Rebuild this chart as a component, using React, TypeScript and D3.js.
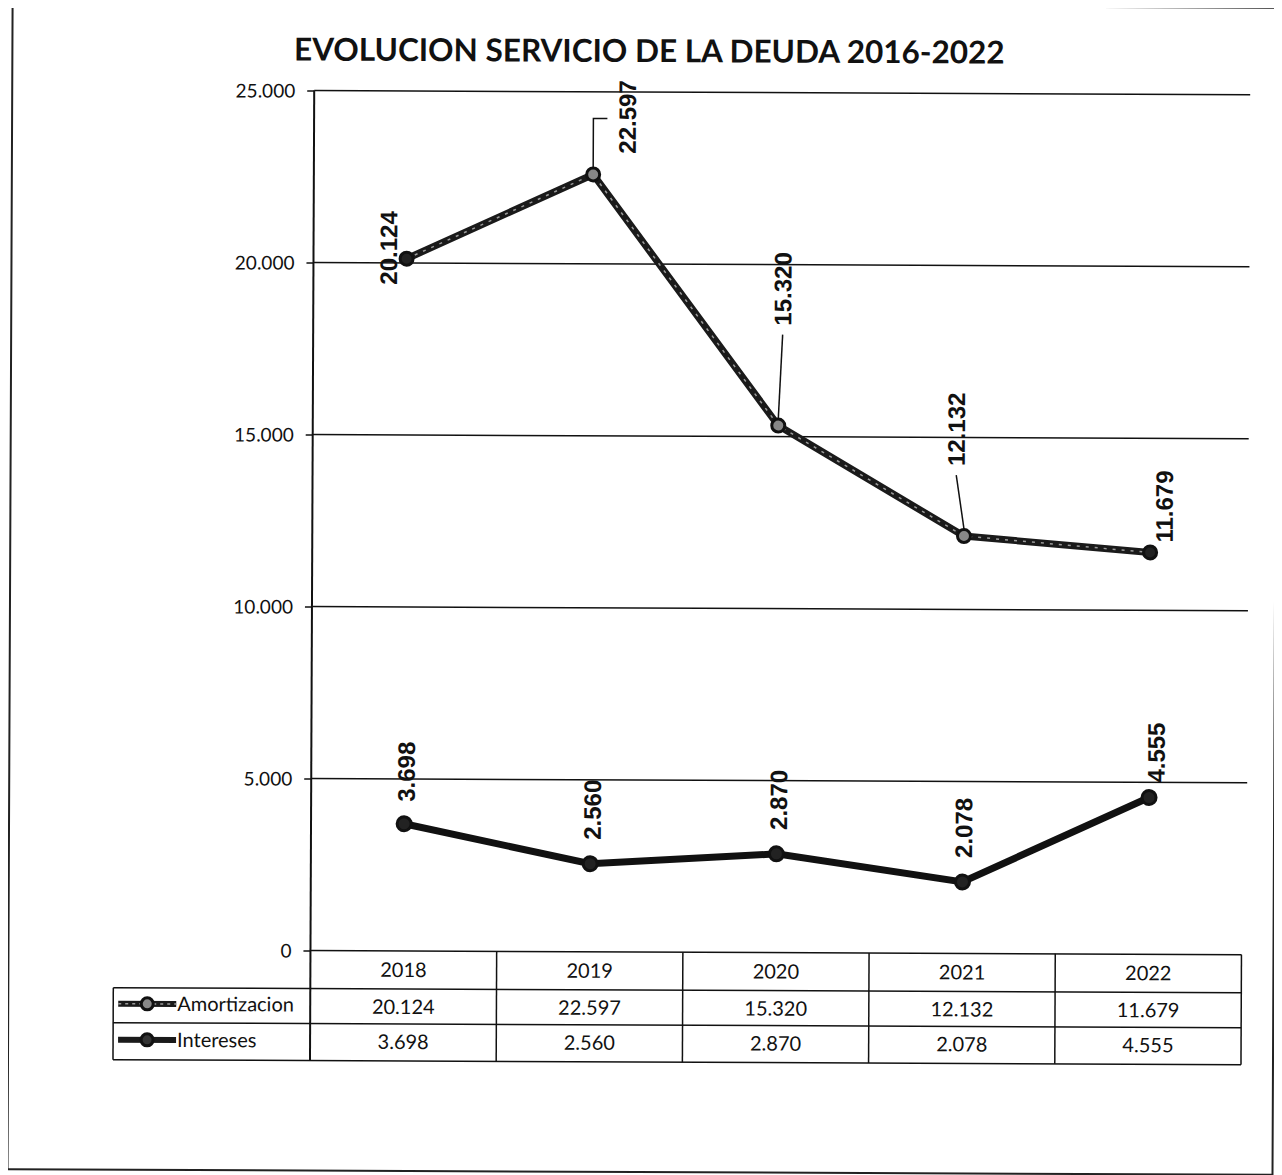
import React, { useEffect, useRef } from "react";
import * as d3 from "d3";

const years = ["2018", "2019", "2020", "2021", "2022"];
const amortizacion = [20124, 22597, 15320, 12132, 11679];
const intereses = [3698, 2560, 2870, 2078, 4555];
const yTicks = [0, 5000, 10000, 15000, 20000, 25000];
const seriesNames = ["Amortizacion", "Intereses"];

const fmt = (v: number) => (v === 0 ? "0" : (v / 1000).toFixed(3));

// label offsets from the point (text rotated -90, dy = where the text starts)
const amoLabels = [
  { dx: -18, dy: 26, leader: "" },
  { dx: 34, dy: -21, leader: "elbow" },
  { dx: 4, dy: -100, leader: "straight" },
  { dx: -8, dy: -70, leader: "straight" },
  { dx: 14, dy: -10, leader: "" },
];
const intLabels = [
  { dx: 2, dy: -22, leader: "" },
  { dx: 2, dy: -24, leader: "" },
  { dx: 2, dy: -24, leader: "" },
  { dx: 1, dy: -24, leader: "" },
  { dx: 7, dy: -15, leader: "" },
];

export default function App() {
  const ref = useRef<SVGSVGElement>(null);

  useEffect(() => {
    const svg = d3.select(ref.current);
    svg.selectAll("*").remove();

    const left = 312, right = 1243, top = 92, bottom = 952;
    const font = "Lato, 'Liberation Sans', sans-serif";
    const labelFont = "'Liberation Sans', Arial, sans-serif";

    const root = svg.append("g").attr("transform", "translate(-8,-8) rotate(0.25, 640, 600)");

    root.append("rect")
      .attr("x", 10).attr("y", 5).attr("width", 1265).attr("height", 1167)
      .attr("fill", "none").attr("stroke", "#222").attr("stroke-width", 2);

    root.append("text")
      .attr("x", 647).attr("y", 62)
      .attr("text-anchor", "middle")
      .style("font-family", font).style("font-weight", "bold").style("font-size", "31.5px")
      .attr("fill", "#111")
      .text("EVOLUCION SERVICIO DE LA DEUDA 2016-2022");

    const x = d3.scaleBand().domain(years).range([left, right]);
    const cx = (d: string) => (x(d) as number) + x.bandwidth() / 2;
    const y = d3.scaleLinear().domain([0, 25000]).range([bottom, top]);

    // gridlines
    root.selectAll(".grid").data(yTicks.filter(t => t > 0)).join("line")
      .attr("x1", left).attr("x2", 1248)
      .attr("y1", d => y(d)).attr("y2", d => y(d))
      .attr("stroke", "#111").attr("stroke-width", 1.5);

    // y axis
    const yAxis = root.append("g").attr("transform", `translate(${left},0)`)
      .call(d3.axisLeft(y).tickValues(yTicks).tickSize(7).tickFormat(d => fmt(+d)));
    yAxis.select(".domain").remove();
    yAxis.selectAll("line").attr("stroke", "#111").attr("stroke-width", 1.5);
    yAxis.selectAll("text")
      .style("font-family", font).style("font-size", "19px").attr("fill", "#111")
      .attr("x", -19).attr("dy", "0.35em");
    root.append("line")
      .attr("x1", left).attr("x2", left).attr("y1", top).attr("y2", 1062)
      .attr("stroke", "#111").attr("stroke-width", 2);

    const line = d3.line<number>().x((_, i) => cx(years[i])).y(d => y(d));

    // Amortizacion
    root.append("path").datum(amortizacion).attr("d", line)
      .attr("fill", "none").attr("stroke", "#1a1a1a").attr("stroke-width", 7);
    root.append("path").datum(amortizacion).attr("d", line)
      .attr("fill", "none").attr("stroke", "#9a9a9a").attr("stroke-width", 1.5)
      .attr("stroke-dasharray", "3 6");
    // Intereses
    root.append("path").datum(intereses).attr("d", line)
      .attr("fill", "none").attr("stroke", "#111").attr("stroke-width", 7);

    root.selectAll(".mA").data(amortizacion).join("circle")
      .attr("cx", (_, i) => cx(years[i])).attr("cy", d => y(d)).attr("r", 6.5)
      .attr("fill", (_, i) => (i === 0 || i === 4 ? "#222" : "#888"))
      .attr("stroke", "#111").attr("stroke-width", 3);
    root.selectAll(".mI").data(intereses).join("circle")
      .attr("cx", (_, i) => cx(years[i])).attr("cy", d => y(d)).attr("r", 7)
      .attr("fill", "#222").attr("stroke", "#111").attr("stroke-width", 3);

    // data labels
    const drawLabels = (vals: number[], offs: { dx: number; dy: number; leader: string }[]) => {
      vals.forEach((v, i) => {
        const px = cx(years[i]), py = y(v);
        const lx = px + offs[i].dx, ly = py + offs[i].dy;
        if (offs[i].leader === "elbow") {
          root.append("path")
            .attr("d", `M${px},${py - 6} L${px},${ly - 35} L${px + 14},${ly - 35}`)
            .attr("fill", "none").attr("stroke", "#111").attr("stroke-width", 1.5);
        } else if (offs[i].leader === "straight") {
          root.append("line")
            .attr("x1", px).attr("y1", py - 7).attr("x2", lx).attr("y2", ly + 9)
            .attr("stroke", "#111").attr("stroke-width", 1.5);
        }
        root.append("text")
          .attr("transform", `translate(${lx + 8.5},${ly}) rotate(-90)`)
          .attr("text-anchor", "start")
          .style("font-family", labelFont).style("font-weight", "bold").style("font-size", "24px")
          .attr("fill", "#111")
          .text(fmt(v));
      });
    };
    drawLabels(amortizacion, amoLabels);
    drawLabels(intereses, intLabels);

    // data table
    const tbl = root.append("g");
    tbl.selectAll(".hl").data([990, 1025, 1062]).join("line")
      .attr("x1", 115).attr("x2", right).attr("y1", d => d).attr("y2", d => d)
      .attr("stroke", "#111").attr("stroke-width", 1.5);
    tbl.append("line").attr("x1", left).attr("x2", right).attr("y1", bottom).attr("y2", bottom)
      .attr("stroke", "#111").attr("stroke-width", 1.5);
    tbl.append("line").attr("x1", 115).attr("x2", 115).attr("y1", 990).attr("y2", 1062)
      .attr("stroke", "#111").attr("stroke-width", 1.5);
    tbl.selectAll(".vl").data(years).join("line")
      .attr("x1", d => (x(d) as number) + x.bandwidth()).attr("x2", d => (x(d) as number) + x.bandwidth())
      .attr("y1", bottom).attr("y2", 1062)
      .attr("stroke", "#111").attr("stroke-width", 1.5);

    const cellText = (tx: number, ty: number, s: string, anchor = "middle") =>
      tbl.append("text").attr("x", tx).attr("y", ty).attr("text-anchor", anchor)
        .style("font-family", font).style("font-size", "20px").attr("fill", "#111").text(s);

    years.forEach((yr, i) => {
      cellText(cx(yr), 978, yr);
      cellText(cx(yr), 1015, fmt(amortizacion[i]));
      cellText(cx(yr), 1050, fmt(intereses[i]));
    });

    // legend keys
    [1006, 1042].forEach((ky, k) => {
      tbl.append("line").attr("x1", 120).attr("x2", 178).attr("y1", ky).attr("y2", ky)
        .attr("stroke", "#1a1a1a").attr("stroke-width", 6);
      if (k === 0) {
        tbl.append("line").attr("x1", 120).attr("x2", 178).attr("y1", ky).attr("y2", ky)
          .attr("stroke", "#9a9a9a").attr("stroke-width", 1.5).attr("stroke-dasharray", "3 4");
      }
      tbl.append("circle").attr("cx", 149).attr("cy", ky).attr("r", 6)
        .attr("fill", k === 0 ? "#888" : "#333").attr("stroke", "#111").attr("stroke-width", 3);
      cellText(179, ky + 7, seriesNames[k], "start");
    });
  }, []);

  return <svg ref={ref} width={1274} height={1170} style={{ display: "block" }} />;
}
